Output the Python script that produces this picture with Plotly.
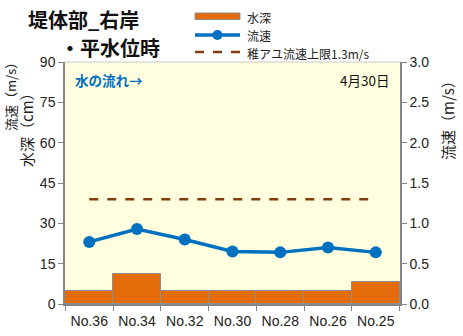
import plotly.graph_objects as go

# Survey points along the right bank (upstream -> downstream)
stations = ["No.36", "No.34", "No.32", "No.30", "No.28", "No.26", "No.25"]
depth_cm = [5, 11, 5, 5, 5, 5, 8]
velocity_ms = [0.77, 0.93, 0.80, 0.65, 0.64, 0.70, 0.64]
ayu_limit_ms = 1.3

depth_ticks = [0, 15, 30, 45, 60, 75, 90]
velocity_ticks = [0.0, 0.5, 1.0, 1.5, 2.0, 2.5, 3.0]

W, H = 463, 336
L, R, T, B = 65, 63, 62, 32
PW, PH = W - L - R, H - T - B

JP = "Noto Sans CJK JP, Arial, sans-serif"
BAR_C = "#E46C0A"
LINE_C = "#0070C0"
DASH_C = "#843C0C"
AXIS_C = "#868686"


def px(x):
    return (x - L) / PW


def py(y):
    return (H - B - y) / PH


fig = go.Figure()

fig.add_trace(go.Bar(
    x=stations, y=depth_cm, name="水深",
    marker=dict(color=BAR_C, line=dict(color="#8C8C8C", width=1)),
    yaxis="y", showlegend=False,
))
fig.add_trace(go.Scatter(
    x=stations, y=velocity_ms, name="流速", mode="lines+markers",
    line=dict(color=LINE_C, width=3.5),
    marker=dict(color=LINE_C, size=12),
    yaxis="y2", showlegend=False,
))
fig.add_trace(go.Scatter(
    x=stations, y=[ayu_limit_ms] * len(stations),
    name="稚アユ流速上限1.3m/s", mode="lines",
    line=dict(color=DASH_C, width=2.5, dash="dash"),
    yaxis="y2", showlegend=False,
))

shapes = []
annotations = []

# Legend drawn beside the title
lx0, lx1 = 195, 240
shapes.append(dict(type="rect", xref="paper", yref="paper",
                   x0=px(lx0), x1=px(lx1), y0=py(19.5), y1=py(13),
                   fillcolor=BAR_C, line=dict(color="#8C8C8C", width=1)))
shapes.append(dict(type="line", xref="paper", yref="paper",
                   x0=px(lx0), x1=px(lx1), y0=py(35), y1=py(35),
                   line=dict(color=LINE_C, width=3.5)))
shapes.append(dict(type="circle", xref="paper", yref="paper",
                   x0=px(217.5 - 5), x1=px(217.5 + 5), y0=py(35 + 5), y1=py(35 - 5),
                   fillcolor=LINE_C, line=dict(color=LINE_C, width=0)))
shapes.append(dict(type="line", xref="paper", yref="paper",
                   x0=px(lx0), x1=px(lx1), y0=py(52), y1=py(52),
                   line=dict(color=DASH_C, width=2.5, dash="dash")))

for text, y in [("水深", 17), ("流速", 36), ("稚アユ流速上限1.3m/s", 53)]:
    annotations.append(dict(text=text, xref="paper", yref="paper",
                            x=px(245), y=py(y), xanchor="left", yanchor="middle",
                            showarrow=False, font=dict(family=JP, size=12, color="#222")))

# Title (two lines)
annotations.append(dict(text="<b>堤体部_右岸</b>", xref="paper", yref="paper",
                        x=px(26), y=py(20), xanchor="left", yanchor="middle",
                        showarrow=False, font=dict(family=JP, size=20, color="#111")))
annotations.append(dict(text="<b>・平水位時</b>", xref="paper", yref="paper",
                        x=px(58), y=py(47), xanchor="left", yanchor="middle",
                        showarrow=False, font=dict(family=JP, size=20, color="#111")))

# In-plot notes
annotations.append(dict(text="<b>水の流れ→</b>", xref="paper", yref="paper",
                        x=px(73), y=py(80), xanchor="left", yanchor="middle",
                        showarrow=False, font=dict(family=JP, size=13.5, color=LINE_C)))
annotations.append(dict(text="4月30日", xref="paper", yref="paper",
                        x=px(391), y=py(80), xanchor="right", yanchor="middle",
                        showarrow=False, font=dict(family=JP, size=13.5, color="#111")))

# Axis titles
annotations.append(dict(text="水深（cm）", xref="paper", yref="paper",
                        x=px(26), y=py(126), xanchor="center", yanchor="middle",
                        textangle=-90, showarrow=False,
                        font=dict(family=JP, size=15, color="#222")))
annotations.append(dict(text="流速（m/s）", xref="paper", yref="paper",
                        x=px(10), y=py(94), xanchor="center", yanchor="middle",
                        textangle=-90, showarrow=False,
                        font=dict(family=JP, size=13, color="#222")))
annotations.append(dict(text="流速（m/s）", xref="paper", yref="paper",
                        x=px(447), y=py(117), xanchor="center", yanchor="middle",
                        textangle=-90, showarrow=False,
                        font=dict(family=JP, size=15, color="#222")))

# Top frame of the plot area
shapes.append(dict(type="line", xref="paper", yref="paper", x0=0, x1=1, y0=1, y1=1,
                   line=dict(color="#C8C8C8", width=1)))

fig.update_layout(
    width=W, height=H,
    margin=dict(l=L, r=R, t=T, b=B, autoexpand=False),
    paper_bgcolor="white",
    plot_bgcolor="#FFFFE0",
    bargap=0,
    shapes=shapes,
    annotations=annotations,
    xaxis=dict(
        type="category", tickson="boundaries", ticks="outside", ticklen=5,
        tickcolor=AXIS_C, showline=True, linecolor=AXIS_C, linewidth=1.5,
        showgrid=False, ticklabelstandoff=3, automargin=False,
        tickfont=dict(family="Arial", size=14, color="#222"),
    ),
    yaxis=dict(
        range=[0, 90], tickvals=depth_ticks, ticks="outside", ticklen=5,
        tickcolor=AXIS_C, showline=True, linecolor=AXIS_C, linewidth=1.5,
        showgrid=False, zeroline=False, automargin=False,
        tickfont=dict(family="Arial", size=14, color="#222"),
    ),
    yaxis2=dict(
        range=[0, 3], tickvals=velocity_ticks, tickformat=".1f",
        overlaying="y", side="right", ticks="outside", ticklen=5,
        tickcolor=AXIS_C, showline=True, linecolor=AXIS_C, linewidth=1.5,
        showgrid=False, zeroline=False, automargin=False,
        tickfont=dict(family="Arial", size=14, color="#222"),
    ),
)

fig.write_html("out.html")
